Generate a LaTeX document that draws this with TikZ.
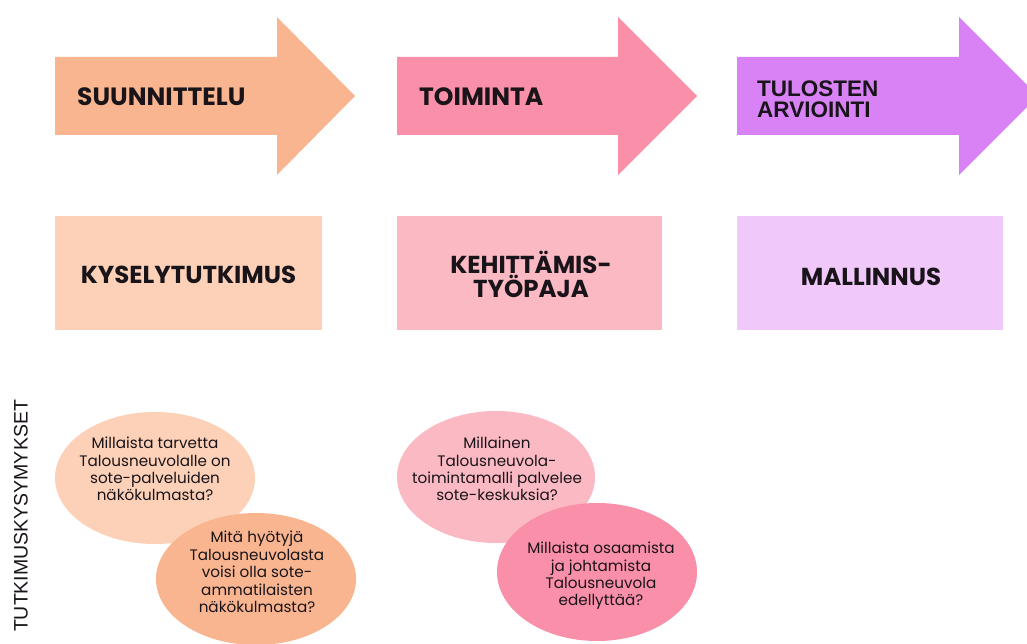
\documentclass[tikz,border=0pt]{standalone}
\usepackage{fontspec}
\setmainfont{Poppins}
\newfontfamily\arialfont{Liberation Sans}
\definecolor{peachA}{RGB}{249,181,143}
\definecolor{peachB}{RGB}{252,209,184}
\definecolor{pinkA}{RGB}{249,143,168}
\definecolor{pinkB}{RGB}{251,185,195}
\definecolor{violA}{RGB}{216,130,246}
\definecolor{violB}{RGB}{241,200,250}
\definecolor{ink}{RGB}{25,20,25}
\tikzset{
  head/.style={font=\bfseries\fontsize{25}{25}\selectfont, text=ink, anchor=west, inner sep=0pt},
  boxlabel/.style={font=\bfseries\fontsize{24.5}{21}\selectfont, text=ink, align=center, inner sep=0pt},
  qtext/.style={font=\fontsize{15.2}{17.4}\selectfont, text=ink, align=center, inner sep=0pt},
}
\begin{document}
\begin{tikzpicture}[x=1pt,y=-1pt]
\useasboundingbox (0,0) rectangle (1027,644);
\fill[white] (0,0) rectangle (1027,644);
% arrows
\fill[peachA] (55,57) -- (277,57) -- (277,17) -- (355,96) -- (277,175) -- (277,135) -- (55,135) -- cycle;
\fill[pinkA] (397,57) -- (618,57) -- (618,17) -- (697,96) -- (618,175) -- (618,135) -- (397,135) -- cycle;
\fill[violA] (737,57) -- (959,57) -- (959,17) -- (1038,96) -- (959,175) -- (959,135) -- (737,135) -- cycle;
\node[head] (h1) at (77,97) {SUUNNITTELU};
\node[head] (h2) at (419,97) {TOIMINTA};
\node[head, font=\arialfont\bfseries\fontsize{22.5}{21}\selectfont, align=left] (h3) at (757,99) {TULOSTEN\\ARVIOINTI};
% boxes
\fill[peachB] (55,216) rectangle (322,330);
\fill[pinkB] (397,216) rectangle (662,330);
\fill[violB] (737,216) rectangle (1003,330);
\node[boxlabel] (b1) at (188.5,275) {KYSELYTUTKIMUS};
\node[boxlabel] (b2) at (531,274.5) {KEHITTÄMIS-\\TYÖPAJA};
\node[boxlabel] (b3) at (871,276.5) {MALLINNUS};
% vertical label
\node[font=\arialfont\fontsize{19.5}{19.5}\selectfont, text=ink, rotate=90, inner sep=0pt] (vt) at (21,516) {TUTKIMUSKYSYMYKSET};
% ellipses
\fill[peachB] (155,478) ellipse [x radius=100, y radius=66];
\node[qtext] (q1) at (155,469) {Millaista tarvetta\\Talousneuvolalle on\\sote-palveluiden\\näkökulmasta?};
\fill[peachA] (256,579) ellipse [x radius=100, y radius=66];
\node[qtext] (q2) at (257,572) {Mitä hyötyjä\\Talousneuvolasta\\voisi olla sote-\\ammatilaisten\\näkökulmasta?};
\fill[pinkB] (496,477) ellipse [x radius=99, y radius=66];
\node[qtext] (q3) at (497,469) {Millainen\\Talousneuvola-\\toimintamalli palvelee\\sote-keskuksia?};
\fill[pinkA] (597,572) ellipse [x radius=100, y radius=69];
\node[qtext] (q4) at (601,576) {Millaista osaamista\\ja johtamista\\Talousneuvola\\edellyttää?};
\end{tikzpicture}
\end{document}
